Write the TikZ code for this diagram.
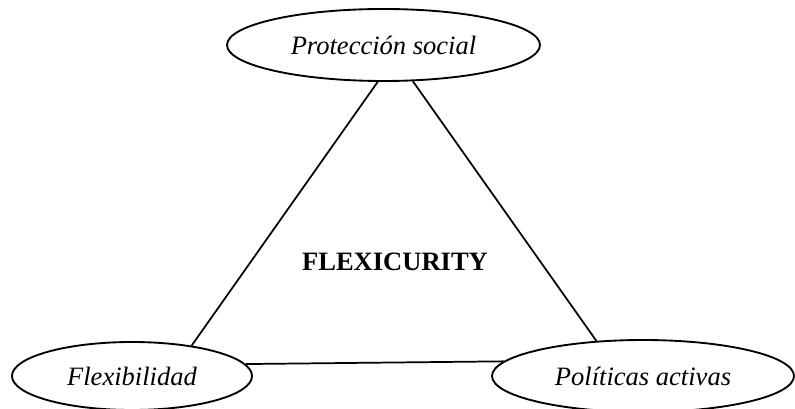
\documentclass[tikz,border=0pt]{standalone}
\usepackage{fontspec}
\setmainfont{Liberation Serif}
\usetikzlibrary{shapes.geometric}
\begin{document}
\begin{tikzpicture}[x=0.75pt,y=-0.75pt,
  oval/.style={draw,ellipse,line width=1.4pt,inner sep=0pt,
    font=\fontsize{19.9}{24}\selectfont\itshape},
  link/.style={line width=1.3pt}]
\useasboundingbox (0,0) rectangle (795,409);
\clip (0,0) rectangle (795,409);
\node[oval,minimum width=234.75pt,minimum height=54pt] (top) at (383.5,45) {Protección social};
\node[oval,minimum width=180pt,minimum height=51pt] (left) at (132,376) {Flexibilidad};
\node[oval,minimum width=226.5pt,minimum height=54pt] (right) at (643,376) {Políticas activas};
\node[font=\fontsize{19.9}{24}\selectfont\bfseries] (center) at (395,262) {FLEXICURITY};
\draw[link] (top.261.3) -- (left.27.7);
\draw[link] (top.309.3) -- (right.143.5);
\draw[link] (left.6.4) -- (right.174.8);
\end{tikzpicture}
\end{document}
